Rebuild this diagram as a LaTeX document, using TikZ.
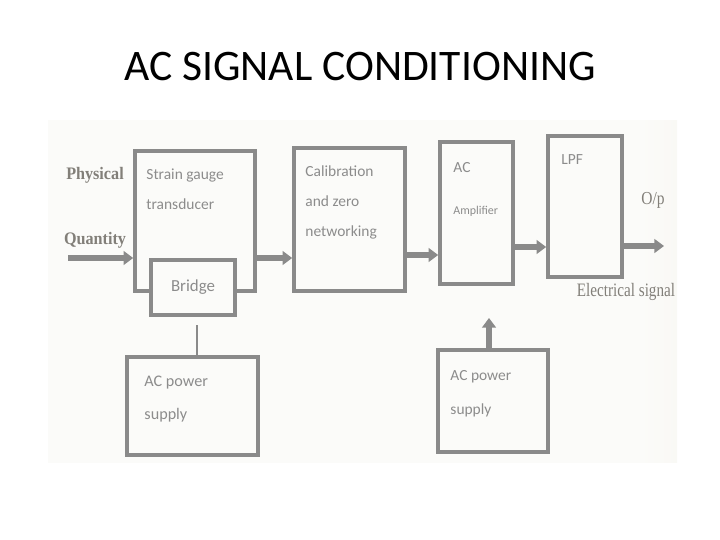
\documentclass[tikz,border=0pt]{standalone}
\usepackage{fontspec}
\setmainfont{Carlito}
\newfontfamily\labelserif{Liberation Serif}
\usetikzlibrary{positioning,calc,arrows.meta}
\definecolor{slideink}{RGB}{0,0,0}
\definecolor{blockgray}{RGB}{138,138,138}
\definecolor{textgray}{RGB}{140,140,140}
\definecolor{labelgray}{RGB}{130,127,121}
\definecolor{photoleft}{RGB}{222,220,207}
\definecolor{photomid}{RGB}{251,251,249}
\definecolor{photoright}{RGB}{234,229,212}
\pgfdeclarehorizontalshading{photoboard}{100bp}{color(0bp)=(photoleft); color(22bp)=(photomid);
  color(72bp)=(photomid); color(100bp)=(photoright)}

\tikzset{
  block/.style={draw=blockgray,line width=2.6pt,inner sep=0pt},
  blocktext/.style={anchor=north west,align=left,inner sep=0pt,text=textgray,
    font=\fontsize{11}{21.5}\selectfont},
  sidelabel/.style={text=labelgray,inner sep=0pt,font=\labelserif\fontsize{11}{13}\selectfont},
  flow/.style={draw=blockgray,line width=3.6pt,-{Triangle[length=2.4mm,width=3.4mm]}},
}

\begin{document}
\begin{tikzpicture}[x=0.25mm,y=-0.25mm]
  \useasboundingbox (0,0) rectangle (720,540);
  % photographed board
  \shade[shading=photoboard] (48,120) rectangle (677,462);
  \node[font=\fontsize{31}{33}\selectfont,text=slideink] (title) at (360,67) {AC SIGNAL CONDITIONING};

  % blocks
  \node[block,minimum width=30mm,minimum height=35mm] (sgt) at (195,221) {};
  \node[block,fill=photomid,minimum width=21mm,minimum height=13.75mm,
    text=textgray,font=\fontsize{12}{14}\selectfont] (bridge) at (193,287.5) {Bridge};
  \node[block,minimum width=27.75mm,minimum height=35.75mm] (cal) at (349.5,219.5) {};
  \node[block,minimum width=18.25mm,minimum height=35.5mm] (amp) at (476.5,213) {};
  \node[block,minimum width=18.5mm,minimum height=35.25mm] (lpf) at (585,206.5) {};
  \node[block,minimum width=32.75mm,minimum height=24.5mm] (psl) at (192.5,406) {};
  \node[block,minimum width=27.5mm,minimum height=25.5mm] (psr) at (493,401) {};

  % block texts
  \node[blocktext] (sgttext) at ($(sgt.north west)+(13,19)$) {Strain gauge\\transducer};
  \node[blocktext] (caltext) at ($(cal.north west)+(13,19)$) {Calibration\\and zero\\networking};
  \node[blocktext] (amptext) at ($(amp.north west)+(15,22)$) {AC};
  \node[blocktext,font=\fontsize{8.5}{10}\selectfont] (ampsub) at ($(amp.north west)+(15,66)$) {Amplifier};
  \node[blocktext] (lpftext) at ($(lpf.north west)+(15,20)$) {LPF};
  \node[blocktext,font=\fontsize{11.5}{23}\selectfont] (psltext) at ($(psl.north west)+(19,21)$) {AC power\\supply};
  \node[blocktext,font=\fontsize{11}{24}\selectfont] (psrtext) at ($(psr.north west)+(14,22)$) {AC power\\supply};

  % outside labels
  \node[sidelabel,font=\labelserif\bfseries\fontsize{12.5}{14}\selectfont,xscale=0.92] (phys) at (95,175) {Physical};
  \node[sidelabel,font=\labelserif\bfseries\fontsize{12.5}{14}\selectfont,xscale=0.92] (qty) at (95,240) {Quantity};
  \node[sidelabel,font=\labelserif\fontsize{13}{15}\selectfont,xscale=0.85] (op) at (653,200) {O/p};
  \node[sidelabel,font=\labelserif\fontsize{13.5}{15}\selectfont,xscale=0.8] (elsig) at (626,292) {Electrical signal};

  % signal path
  \coordinate (qin) at (68,258);
  \coordinate (opend) at (664,246);
  \coordinate (ampfeed) at (489,318);
  \coordinate (tap) at (197,325);
  \draw[flow] (qin) -- (qin -| sgt.west);
  \foreach \src/\dst/\yy in {sgt/cal/258,cal/amp/255,amp/lpf/247}
    \draw[flow] (\src.east |- 0,\yy) -- (\dst.west |- 0,\yy);
  \draw[flow] (lpf.east |- opend) -- (opend);
  \draw[flow] (psr.north -| ampfeed) -- (ampfeed);
  \draw[blockgray,line width=1pt] (tap) -- (tap |- psl.north);
\end{tikzpicture}
\end{document}
